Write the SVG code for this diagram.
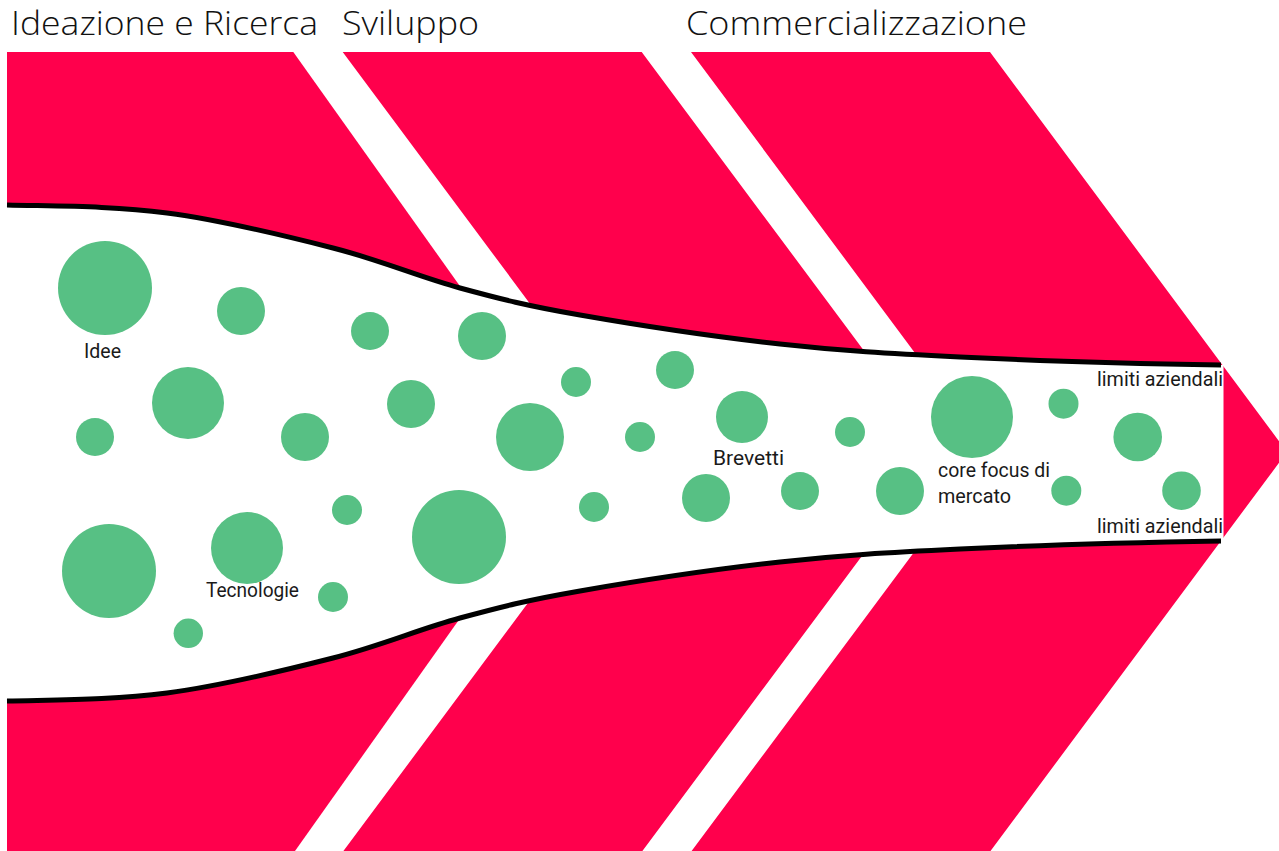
<svg xmlns="http://www.w3.org/2000/svg" width="1279" height="851" viewBox="0 0 1279 851">
  <style>
    .band { fill: #ff004c; }
    .funnel { fill: #ffffff; }
    .limit { fill: none; stroke: #000000; stroke-width: 5; stroke-linecap: butt; }
    .dot { fill: #57c084; }
    .hdr { font-family: "Open Sans", "Noto Sans", sans-serif; font-size: 33px; font-weight: 300; fill: #111111; }
    .lbl { font-family: Roboto, "Open Sans", sans-serif; font-size: 20px; fill: #1a1a1a; }
  </style>
  <rect x="0" y="0" width="1279" height="851" fill="#ffffff"/>

  <g id="header-ideazione"><text class="hdr" x="11" y="35" textLength="307" lengthAdjust="spacingAndGlyphs">Ideazione e Ricerca</text></g>
  <g id="header-sviluppo"><text class="hdr" x="342" y="35" textLength="137" lengthAdjust="spacingAndGlyphs">Sviluppo</text></g>
  <g id="header-commercializzazione"><text class="hdr" x="686" y="35" textLength="341" lengthAdjust="spacingAndGlyphs">Commercializzazione</text></g>

  <g id="band-ideazione"><polygon class="band" points="7,52 293.3,52 578,452 295,851 7,851"/></g>
  <g id="band-sviluppo"><polygon class="band" points="342.7,52 641.7,52 939.3,452 642.4,851 343.4,851 640.3,452"/></g>
  <g id="band-commercializzazione"><polygon class="band" points="691,52 990,52 1287,452 990.5,851 691.6,851 988.6,452"/></g>

  <g id="funnel">
    <path class="funnel" d="M7,205 C60.3,206.3 112.7,205.8 167,213 C221.3,220.2 284.2,235.5 333,248 C381.8,260.5 418.8,276.8 460,288 C501.2,299.2 526.7,305.7 580,315 C633.3,324.3 716.7,337 780,344 C843.3,351 886.5,353.5 960,357 C1033.5,360.5 1134.2,363.5 1221,365 L1223.5,365 L1223.5,541 L1221,541 C1134.2,542.5 1033.5,545.5 960,549 C886.5,552.5 843.3,555 780,562 C716.7,569 633.3,581.7 580,591 C526.7,600.3 501.2,606.8 460,618 C418.8,629.2 381.8,645.5 333,658 C284.2,670.5 221.3,685.8 167,693 C112.7,700.2 60.3,699.7 7,701 Z"/>
  </g>

  <g id="connectors">
    <path id="limit-top" class="limit" d="M7,205 C60.3,206.3 112.7,205.8 167,213 C221.3,220.2 284.2,235.5 333,248 C381.8,260.5 418.8,276.8 460,288 C501.2,299.2 526.7,305.7 580,315 C633.3,324.3 716.7,337 780,344 C843.3,351 886.5,353.5 960,357 C1033.5,360.5 1134.2,363.5 1221,365"/>
    <path id="limit-bottom" class="limit" d="M7,701 C60.3,699.7 112.7,700.2 167,693 C221.3,685.8 284.2,670.5 333,658 C381.8,645.5 418.8,629.2 460,618 C501.2,606.8 526.7,600.3 580,591 C633.3,581.7 716.7,569 780,562 C843.3,555 886.5,552.5 960,549 C1033.5,545.5 1134.2,542.5 1221,541"/>
  </g>

  <g id="dot-1"><circle class="dot" cx="105" cy="288" r="47"/></g>
  <g id="dot-2"><circle class="dot" cx="241" cy="311" r="24"/></g>
  <g id="dot-3"><circle class="dot" cx="370" cy="331" r="19"/></g>
  <g id="dot-4"><circle class="dot" cx="482" cy="336" r="24"/></g>
  <g id="dot-5"><circle class="dot" cx="188" cy="403" r="36"/></g>
  <g id="dot-6"><circle class="dot" cx="95" cy="437" r="19"/></g>
  <g id="dot-7"><circle class="dot" cx="305" cy="437" r="24"/></g>
  <g id="dot-8"><circle class="dot" cx="411" cy="404" r="24"/></g>
  <g id="dot-9"><circle class="dot" cx="530" cy="437" r="34"/></g>
  <g id="dot-10"><circle class="dot" cx="576" cy="382" r="15"/></g>
  <g id="dot-11"><circle class="dot" cx="675" cy="370" r="19"/></g>
  <g id="dot-12"><circle class="dot" cx="640" cy="437" r="15"/></g>
  <g id="dot-13"><circle class="dot" cx="742" cy="417" r="26"/></g>
  <g id="dot-14"><circle class="dot" cx="850" cy="432" r="15"/></g>
  <g id="dot-15"><circle class="dot" cx="972" cy="417" r="41"/></g>
  <g id="dot-16"><circle class="dot" cx="1063.5" cy="403.7" r="15"/></g>
  <g id="dot-17"><circle class="dot" cx="1137.7" cy="437" r="24.3"/></g>
  <g id="dot-18"><circle class="dot" cx="1066.3" cy="490.7" r="15"/></g>
  <g id="dot-19"><circle class="dot" cx="1181.5" cy="490.7" r="19.3"/></g>
  <g id="dot-20"><circle class="dot" cx="900" cy="491" r="24"/></g>
  <g id="dot-21"><circle class="dot" cx="800" cy="491" r="19"/></g>
  <g id="dot-22"><circle class="dot" cx="706" cy="498" r="24"/></g>
  <g id="dot-23"><circle class="dot" cx="594" cy="507" r="15"/></g>
  <g id="dot-24"><circle class="dot" cx="459" cy="537" r="47"/></g>
  <g id="dot-25"><circle class="dot" cx="347" cy="510" r="15"/></g>
  <g id="dot-26"><circle class="dot" cx="247" cy="548" r="36"/></g>
  <g id="dot-27"><circle class="dot" cx="109" cy="571" r="47"/></g>
  <g id="dot-28"><circle class="dot" cx="188.3" cy="633.3" r="14.7"/></g>
  <g id="dot-29"><circle class="dot" cx="333" cy="597" r="15"/></g>

  <g id="label-idee"><text class="lbl" x="84" y="358" textLength="37" lengthAdjust="spacingAndGlyphs">Idee</text></g>
  <g id="label-tecnologie"><text class="lbl" x="206" y="597" textLength="93" lengthAdjust="spacingAndGlyphs">Tecnologie</text></g>
  <g id="label-brevetti"><text class="lbl" x="713" y="465" textLength="71" lengthAdjust="spacingAndGlyphs">Brevetti</text></g>
  <g id="label-core-focus">
    <text class="lbl" x="938" y="477" textLength="112" lengthAdjust="spacingAndGlyphs">core focus di</text>
    <text class="lbl" x="938" y="503" textLength="73" lengthAdjust="spacingAndGlyphs">mercato</text>
  </g>
  <g id="label-limiti-top"><text class="lbl" x="1097" y="386" textLength="126" lengthAdjust="spacingAndGlyphs">limiti aziendali</text></g>
  <g id="label-limiti-bottom"><text class="lbl" x="1097" y="533" textLength="126" lengthAdjust="spacingAndGlyphs">limiti aziendali</text></g>
</svg>
